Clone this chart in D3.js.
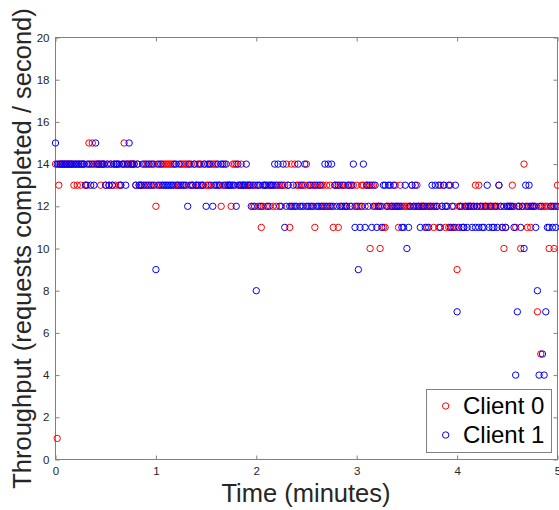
<!DOCTYPE html>
<html>
<head>
<meta charset="utf-8">
<script src="https://cdn.jsdelivr.net/npm/d3@7"></script>
<style>
  body { margin: 0; background: #fff; }
  svg { display: block; font-family: "Liberation Sans", Arial, Helvetica, sans-serif; }
</style>
</head>
<body>
<div id="chart"></div>
<script>
// throughput per second (index = second since start), one array per client
const client0 = [
  14,1,13,14,14,14,14,14,14,14, 14,13,14,13,14,13,14,14,13,13, 15,14,15,14,14,14,14,13,14,14,
  13,14,13,14,13,14,13,14,13,13, 14,15,14,14,14,14,14,14,13,14, 13,13,13,14,13,14,13,14,13,14,
  12,13,14,13,14,14,14,14,14,14, 14,13,13,13,13,14,14,14,14,14, 13,14,13,14,13,14,13,14,13,14,
  13,13,13,14,14,14,14,13,13,12, 13,14,13,13,13,12,14,14,14,13, 13,14,13,13,13,13,13,13,12,13,
  13,12,12,11,12,13,12,13,12,13, 12,13,12,13,13,12,13,13,14,13, 11,14,12,14,13,13,13,12,13,13,
  14,13,12,13,13,11,13,13,12,13, 13,12,13,12,13,12,11,13,13,11, 13,13,12,13,12,13,13,12,13,12,
  13,12,12,13,13,12,13,13,10,13, 13,12,12,12,10,12,11,11,12,12, 12,12,12,13,12,11,13,12,12,12,
  12,12,12,13,12,12,13,12,12,12, 12,12,11,12,12,12,11,12,12,11, 13,12,13,11,12,11,13,11,12,11,
  9,12,12,12,11,12,12,12,12,12, 12,13,12,13,12,12,12,12,12,12, 12,12,12,12,12,13,12,11,10,11,
  12,12,12,13,12,11,12,12,10,12, 14,12,11,12,11,12,12,12,7,12, 5,12,12,12,12,10,12,12,10,12,
  13
];
const client1 = [
  15,14,14,14,14,14,14,14,14,14, 14,14,14,14,14,14,14,14,13,14, 14,13,14,13,15,14,14,14,14,14,
  13,14,13,14,13,14,14,14,14,13, 14,14,13,14,15,14,14,14,13,14, 13,13,14,13,14,13,14,13,14,13,
  9,14,13,14,13,13,13,13,13,13, 13,14,14,13,14,13,13,13,13,12, 14,13,13,14,13,13,14,13,13,14,
  12,14,14,13,12,13,13,14,13,14, 14,13,14,13,13,13,13,13,12,14, 13,13,13,13,14,13,13,12,13,12,
  8,13,13,12,13,13,13,12,13,13, 13,14,13,14,12,13,14,11,12,13, 12,12,13,12,12,14,12,13,12,14,
  12,12,13,12,12,13,12,12,13,12, 12,14,12,14,12,14,12,13,12,13, 12,12,13,12,12,13,12,13,14,11,
  12,9,11,12,14,11,13,12,13,11, 12,13,11,12,12,11,13,13,12,13, 13,12,13,12,12,12,12,11,11,13,
  10,11,12,13,12,13,12,12,11,12, 12,11,12,11,12,13,12,13,12,13, 11,12,13,12,12,13,11,12,11,13,
  7,11,12,11,11,12,11,12,12,11, 12,11,12,11,12,11,11,12,13,11, 12,11,11,12,11,13,12,11,12,11,
  12,12,12,12,11,4,7,12,11,12, 10,13,12,13,12,12,12,11,8,4, 12,5,4,7,11,11,12,11,12,11,
  12
];
const seriesNames = ["Client 0", "Client 1"];
const seriesColors = ["#ff0000", "#0000ff"];
const xTicks = [0, 1, 2, 3, 4, 5];
const yTicks = [0, 2, 4, 6, 8, 10, 12, 14, 16, 18, 20];

const width = 559, height = 510;
const axisColor = "#808080";

const svg = d3.select("#chart")
  .append("svg")
  .attr("width", width)
  .attr("height", height);

const x = d3.scaleLinear().domain([0, 5]).range([55.5, 557.5]);
const y = d3.scaleLinear().domain([0, 20]).range([459.5, 37.5]);

function styleAxis(g) {
  g.select(".domain").remove();
  g.selectAll(".tick line").attr("stroke", axisColor);
  g.selectAll(".tick text").attr("fill", "#262626").attr("font-size", 11.5);
}

svg.append("g")
  .attr("transform", "translate(0,459.5)")
  .call(d3.axisBottom(x).tickValues(xTicks).tickSize(-4).tickPadding(7).tickFormat(d3.format("d")))
  .call(styleAxis);

svg.append("g")
  .attr("transform", "translate(55.5,0)")
  .call(d3.axisLeft(y).tickValues(yTicks).tickSize(-4).tickPadding(6).tickFormat(d3.format("d")))
  .call(styleAxis);

svg.append("g")
  .attr("transform", "translate(0,37.5)")
  .call(d3.axisTop(x).tickValues(xTicks).tickSize(-4).tickFormat(""))
  .call(styleAxis);

svg.append("g")
  .attr("transform", "translate(557.5,0)")
  .call(d3.axisRight(y).tickValues(yTicks).tickSize(-4).tickFormat(""))
  .call(styleAxis);

svg.append("rect")
  .attr("x", x(0))
  .attr("y", y(20))
  .attr("width", x(5) - x(0))
  .attr("height", y(0) - y(20))
  .attr("fill", "none")
  .attr("stroke", axisColor);

// points, client 0 first so client 1 sits on top
[client0, client1].forEach((series, i) => {
  svg.append("g")
    .selectAll("circle")
    .data(series)
    .enter()
    .append("circle")
    .attr("cx", (d, t) => x(t / 60))
    .attr("cy", d => y(d))
    .attr("r", 3.2)
    .attr("fill", "none")
    .attr("stroke", seriesColors[i])
    .attr("stroke-width", 1);
});

// axis titles
svg.append("text")
  .attr("x", 306)
  .attr("y", 502)
  .attr("text-anchor", "middle")
  .attr("font-size", 25.5)
  .attr("fill", "#262626")
  .text("Time (minutes)");

svg.append("text")
  .attr("transform", "translate(31,248.5) rotate(-90)")
  .attr("text-anchor", "middle")
  .attr("font-size", 25.5)
  .attr("fill", "#262626")
  .text("Throughput (requests completed / second)");

// legend
const legend = svg.append("g");
legend.append("rect")
  .attr("x", 426.5)
  .attr("y", 389.5)
  .attr("width", 125)
  .attr("height", 63)
  .attr("fill", "#fff")
  .attr("stroke", axisColor);

const items = legend.selectAll(".item")
  .data(seriesNames)
  .enter()
  .append("g")
  .attr("transform", (d, i) => `translate(0,${i * 29})`);

items.append("circle")
  .attr("cx", 445.7)
  .attr("cy", 406)
  .attr("r", 3.2)
  .attr("fill", "none")
  .attr("stroke", (d, i) => seriesColors[i]);

items.append("text")
  .attr("x", 463)
  .attr("y", 414)
  .attr("font-size", 24)
  .attr("fill", "#000")
  .text(d => d);
</script>
</body>
</html>
